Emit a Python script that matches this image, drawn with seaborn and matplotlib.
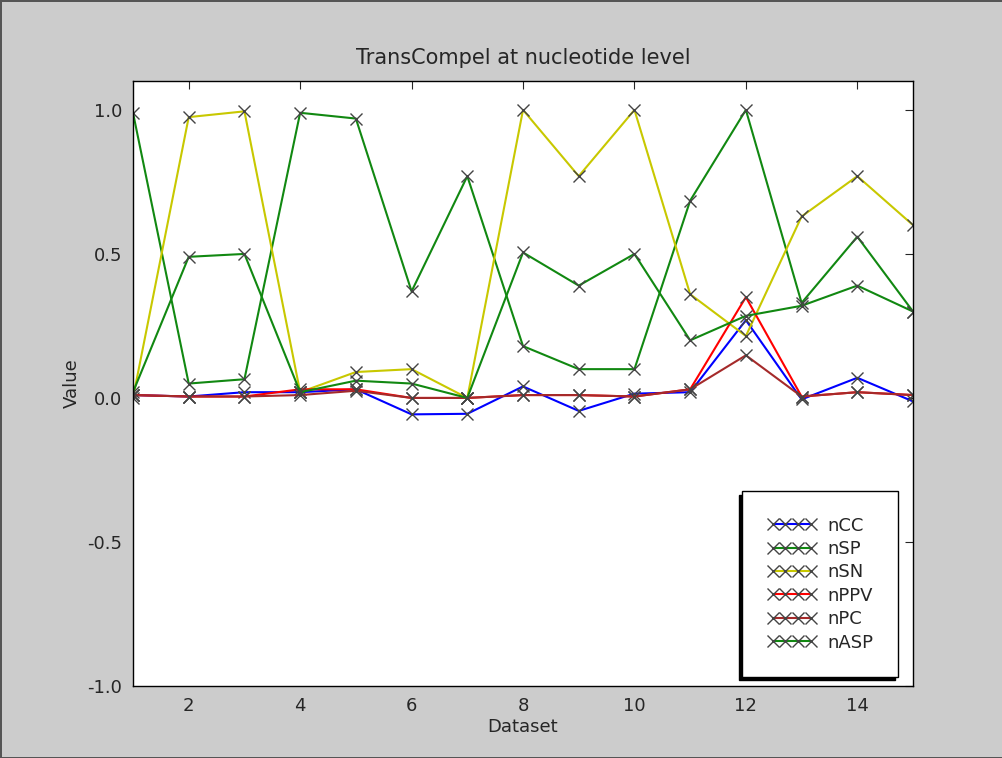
import numpy as np
import pandas as pd
import seaborn as sns
import matplotlib
matplotlib.use("Agg")
import matplotlib.pyplot as plt

datasets = list(range(1, 16))
nCC = [0.01, 0.005, 0.02, 0.02, 0.03, -0.057, -0.055, 0.04, -0.045, 0.015, 0.02, 0.27, -0.005, 0.07, -0.012]
nSP = [0.99, 0.05, 0.065, 0.99, 0.97, 0.37, 0.77, 0.18, 0.10, 0.10, 0.685, 1.0, 0.33, 0.56, 0.30]
nSN = [0.0, 0.975, 0.995, 0.02, 0.09, 0.10, 0.0, 1.0, 0.77, 1.0, 0.36, 0.215, 0.63, 0.77, 0.60]
nPPV = [0.01, 0.005, 0.005, 0.03, 0.03, 0.0, 0.0, 0.01, 0.01, 0.005, 0.03, 0.35, 0.005, 0.02, 0.01]
nPC = [0.01, 0.005, 0.005, 0.01, 0.025, 0.0, 0.0, 0.01, 0.01, 0.005, 0.03, 0.148, 0.005, 0.02, 0.01]
nASP = [0.02, 0.49, 0.50, 0.02, 0.06, 0.05, 0.0, 0.505, 0.39, 0.50, 0.20, 0.285, 0.32, 0.39, 0.30]

series = {"nCC": nCC, "nSP": nSP, "nSN": nSN, "nPPV": nPPV, "nPC": nPC, "nASP": nASP}
colors = {"nCC": "#0000ff", "nSP": "#118811", "nSN": "#c8c800",
          "nPPV": "#ff0000", "nPC": "#a52a2a", "nASP": "#118811"}

sns.set_style("white")
plt.rcParams["font.family"] = ["DejaVu Sans"]

fig = plt.figure(figsize=(10.03, 7.58), dpi=100)
fig.patch.set_facecolor("#cccccc")
fig.patch.set_edgecolor("#555555")
fig.patch.set_linewidth(2)
ax = fig.add_axes([0.1326, 0.095, 0.7777, 0.798])

for name, vals in series.items():
    df = pd.DataFrame({"Dataset": datasets, "Value": vals})
    sns.lineplot(data=df, x="Dataset", y="Value", ax=ax, color=colors[name],
                 label=name, marker="x", markersize=8, markeredgecolor="#444444",
                 markeredgewidth=1.0, linewidth=1.5)

ax.set_xlim(1, 15)
ax.set_ylim(-1, 1.1)
ax.set_xticks([2, 4, 6, 8, 10, 12, 14])
ax.set_yticks([-1.0, -0.5, 0.0, 0.5, 1.0])
ax.set_yticklabels(["-1.0", "-0.5", "0.0", "0.5", "1.0"])
ax.tick_params(direction="in", top=True, right=True, length=6, labelsize=13, pad=8)
for s in ax.spines.values():
    s.set_color("black")
    s.set_linewidth(1.0)
ax.set_title("TransCompel at nucleotide level", fontsize=15, pad=12)
ax.set_xlabel("Dataset", fontsize=13, labelpad=2)
ax.set_ylabel("Value", fontsize=13)

leg = ax.legend(loc="lower right", bbox_to_anchor=(0.981, 0.015), borderaxespad=0,
                numpoints=4, fontsize=13, frameon=True, fancybox=False,
                borderpad=1.4, handlelength=2.7, handletextpad=0.6,
                shadow={"ox": -2.5, "oy": -2.5, "color": "black", "alpha": 1.0},
                labelspacing=0.3)
leg.get_frame().set_edgecolor("black")
leg.get_frame().set_linewidth(1.0)
leg.get_frame().set_alpha(1.0)

fig.savefig("out.png", dpi=100, facecolor=fig.get_facecolor(), edgecolor=fig.get_edgecolor())
